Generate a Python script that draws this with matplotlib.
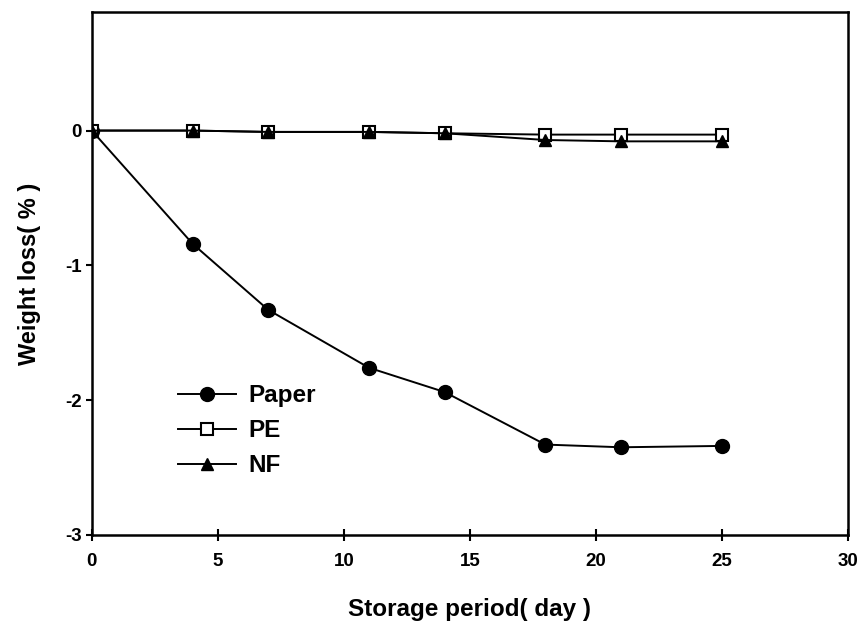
import numpy as np
import matplotlib.pyplot as plt

plt.rcParams['font.family'] = ['Liberation Sans', 'DejaVu Sans']
plt.rcParams['font.weight'] = 'bold'
plt.rcParams['axes.unicode_minus'] = False

# --- data ---
days = [0, 4, 7, 11, 14, 18, 21, 25]
paper = [0, -0.84, -1.33, -1.76, -1.94, -2.33, -2.35, -2.34]
pe = [0, 0, -0.01, -0.01, -0.02, -0.03, -0.03, -0.03]
nf = [0, 0, -0.01, -0.01, -0.02, -0.07, -0.08, -0.08]

fig = plt.figure(figsize=(8.58, 6.3), dpi=100)
ax = fig.add_axes([0.107, 0.151, 0.881, 0.83])

ax.plot(days, paper, color='k', lw=1.4, marker='o', ms=10, mfc='k', mec='k',
        label='Paper')
ax.plot(days, pe, color='k', lw=1.4, marker='s', ms=9, mfc='white', mec='k',
        mew=1.5, label='PE')
ax.plot(days, nf, color='k', lw=1.4, marker='^', ms=9, mfc='k', mec='k',
        label='NF')

ax.set_xlim(0, 30)
ax.set_ylim(-3, 0.88)
ax.set_xticks(np.arange(0, 31, 5))
ax.set_yticks([-3, -2, -1, 0])

for s in ax.spines.values():
    s.set_linewidth(1.8)
ax.tick_params(axis='x', direction='inout', length=8, width=1.5, labelsize=13.5, pad=9)
ax.tick_params(axis='y', direction='out', length=4, width=1.5, labelsize=13.5)
for lab in ax.get_xticklabels() + ax.get_yticklabels():
    lab.set_fontweight('bold')

ax.set_xlabel('Storage period( day )', fontsize=17.5, fontweight='bold', labelpad=20)
ax.set_ylabel('Weight loss( % )', fontsize=17, fontweight='bold', labelpad=17)

leg = ax.legend(loc='lower left', bbox_to_anchor=(0.085, 0.068), frameon=False,
                fontsize=17.5, handlelength=2.4, labelspacing=0.5, handletextpad=0.5)
for t in leg.get_texts():
    t.set_fontweight('bold')

fig.savefig('out.png', dpi=100)
